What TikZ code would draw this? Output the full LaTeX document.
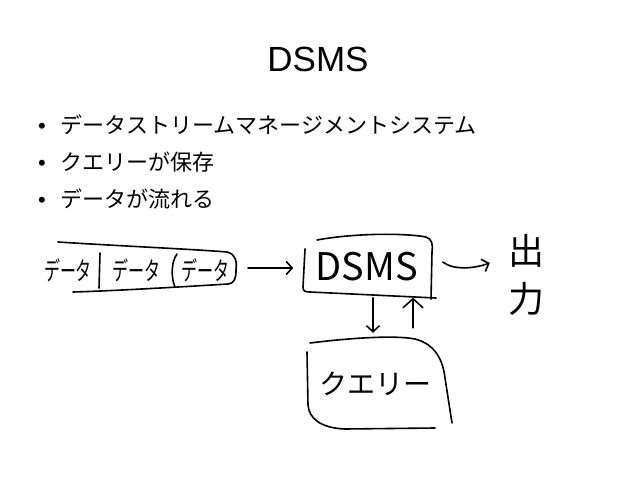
\documentclass[tikz,border=0pt]{standalone}
\usepackage{fontspec}
\setmainfont{Liberation Sans}
\newfontfamily\jpfont{Noto Sans CJK JP}
\usetikzlibrary{arrows.meta}

\begin{document}
\begin{tikzpicture}[x=1pt, y=-1pt,
        hand/.style={line width=1.6pt, line cap=round, line join=round},
        barb/.style={-{Straight Barb[length=6pt,width=13pt]}},
        scrawl/.style={font=\jpfont\fontsize{#1}{#1}\selectfont, inner sep=0pt},
        item/.style={anchor=base west, inner sep=0pt, font=\fontsize{22}{26}\selectfont}]
            \fill[white] (0,0) rectangle (638,479);

            \node (title) at (318,59) {\fontsize{35}{40}\selectfont DSMS};
            \node[item] (item1) at (38,133) {\makebox[22pt][l]{•}\jpfont データストリームマネージメントシステム};
            \node[item] (item2) at (38,170) {\makebox[22pt][l]{•}\jpfont クエリーが保存};
            \node[item] (item3) at (38,207) {\makebox[22pt][l]{•}\jpfont データが流れる};

            \node[scrawl=16] (d1) at (68,270) {\scalebox{1}[1.6]{データ}};
            \node[scrawl=16] (d2) at (136,270) {\scalebox{1}[1.6]{データ}};
            \node[scrawl=16] (d3) at (205,270) {\scalebox{1}[1.6]{データ}};
            \draw[hand] (58,242) .. controls (120,246) and (190,249) .. (227,252)
                .. controls (236,254) and (237,262) .. (236,270)
                .. controls (236,278) and (235,283) .. (228,284)
                .. controls (180,287) and (110,291) .. (73,292);
            \draw[hand] (100,253) -- (99,288);
            \draw[hand] (177,254) .. controls (171,262) and (171,278) .. (175,287);
            \coordinate (sout) at (248,268);

            \node[scrawl=38, minimum width=129pt, minimum height=61pt] (dsms) at (367,267) {DSMS};
            \draw[hand] (317,240) .. controls (355,233) and (405,233) .. (426,237)
                .. controls (432,239) and (433,244) .. (432,252) -- (431,299);
            \draw[hand] (305,249) -- (303,287) .. controls (303,291) and (305,292) .. (310,292) -- (436,298);

            \node[scrawl=28, minimum width=145pt, minimum height=88pt] (query) at (375,384) {クエリー};
            \draw[hand] (310,343) .. controls (350,338) and (395,335) .. (415,339)
                .. controls (435,344) and (443,360) .. (445,378) -- (452,423);
            \draw[hand] (307,352) -- (308,405) .. controls (309,418) and (320,428) .. (345,429) -- (435,428);

            \node[align=center, inner sep=0pt, font=\jpfont\fontsize{36}{48}\selectfont] (output) at (526,275) {出\\力};

            \draw[hand, barb, shorten >=9pt] (sout) -- (sout -| dsms.west);
            \draw[hand, barb] ([xshift=11pt,yshift=5pt]dsms.east) .. controls +(12,9) and +(-14,5) .. ([xshift=-18pt,yshift=12pt]output.west);
            \draw[hand, barb, shorten >=7pt] ([xshift=6pt]dsms.south) -- ([xshift=-2pt]query.north);
            \draw[hand, -{Straight Barb[length=9pt,width=20pt]}, shorten <=12pt] ([xshift=38pt]query.north) -- ([xshift=46pt]dsms.south);
        \end{tikzpicture}
\end{document}
